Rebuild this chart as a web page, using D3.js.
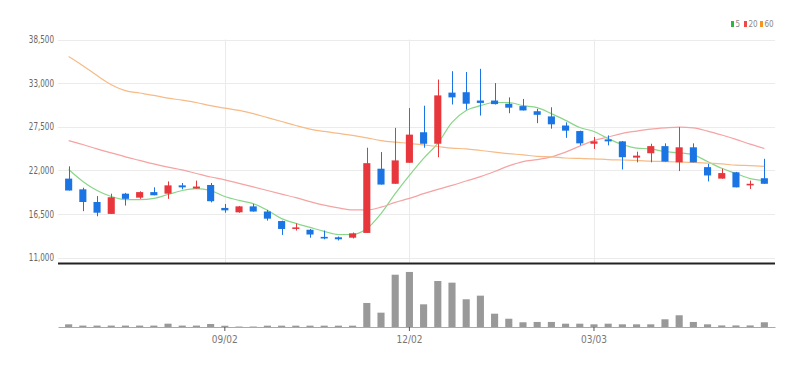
<!DOCTYPE html>
<html>
<head>
<meta charset="utf-8">
<script src="https://cdn.jsdelivr.net/npm/d3@7"></script>
<style>
  body { margin: 0; background: #fff; }
  text { font-family: 'Liberation Sans Narrow', 'DejaVu Sans Condensed', 'Roboto Condensed', 'Noto Sans', sans-serif; font-stretch: condensed; }
</style>
</head>
<body>
<div id="chart"></div>
<script>
var dates = ["06/17","06/24","07/01","07/08","07/15","07/22","07/29","08/05","08/12","08/19",
  "08/26","09/02","09/09","09/16","09/23","09/30","10/07","10/14","10/21","10/28",
  "11/04","11/11","11/18","11/25","12/02","12/09","12/16","12/23","12/30","01/06",
  "01/13","01/20","01/27","02/03","02/10","02/17","02/24","03/03","03/10","03/17",
  "03/24","03/31","04/07","04/14","04/21","04/28","05/05","05/12","05/19","05/26"];

var open  = [20950,19600,18000,16500,19050,18550,19250,19050,20100,19700,
  20150,17250,16700,17450,16800,15600,14600,14500,13600,13550,
  13500,14100,22200,20300,22950,26800,25350,31800,31850,30800,
  30800,30400,30100,29450,28800,27650,26950,25350,25900,25650,
  23600,24150,25050,23000,24900,22400,20950,21750,20100,21000];
var high  = [22500,19800,18750,19050,19150,19350,19850,20600,20400,20700,
  20400,17750,17500,17750,17000,15650,15300,14600,14400,13650,
  14150,24850,24300,27350,29850,30150,33450,34500,34400,34800,
  33000,31200,31000,29750,29950,28050,27000,26200,26400,25700,
  24350,25350,25400,27450,25400,22800,22200,21800,20700,23450];
var low   = [19450,16850,16200,16500,17550,18400,18850,18400,19600,19700,
  17950,16650,16650,16800,15650,13850,14400,13500,13300,13150,
  13400,14100,20200,20300,22950,24850,23650,30300,29650,28900,
  30300,29200,29550,27950,27250,26100,25150,24700,25150,22100,
  23000,23000,23100,21900,23000,20600,20950,19850,19650,20300];
var close = [19450,18000,16650,18600,18400,19250,18850,20100,19850,19950,
  18100,16950,17450,16800,15900,14600,14800,13900,13400,13300,
  14050,22900,20200,23250,26500,25350,31450,31200,30400,30500,
  30350,29900,29550,29000,27800,27000,25400,25650,25650,23650,
  23850,25050,23100,24900,23000,21350,21650,19850,20300,20300];

var ma5  = [22100,20600,19450,18700,18300,18300,18450,18950,19450,19700,
  19450,18700,18200,17800,16950,15900,15300,14800,14300,13900,
  13900,14650,16550,19050,21350,23500,25400,28050,29550,30150,
  30550,30550,30150,29900,29150,28300,27400,26900,26000,25250,
  24800,24700,24350,24200,23950,23100,22250,21600,20950,20700];
var ma20 = [25750,25250,24700,24200,23700,23250,22800,22400,22050,21600,
  21150,20800,20350,19900,19450,19000,18550,18050,17600,17250,
  17000,17000,17350,17950,18450,19050,19600,20100,20650,21200,
  21850,22550,23100,23350,23700,24300,25050,25750,26200,26650,
  26950,27200,27350,27450,27350,26950,26450,25900,25300,24750];
var ma60 = [36350,35200,33950,32800,32050,31750,31450,31100,30850,30550,
  30150,29850,29550,29150,28650,28150,27650,27200,26900,26650,
  26400,26100,25750,25550,25400,25200,25000,24800,24700,24500,
  24300,24100,23950,23750,23700,23550,23500,23450,23350,23300,
  23250,23150,23100,23050,23000,22900,22800,22650,22600,22500];

var volume = [340,180,180,180,180,180,180,420,180,180,
  380,160,60,60,170,170,170,170,170,170,
  170,3050,1820,6640,6990,2880,5840,5630,3520,3980,
  1690,1050,600,640,640,420,420,340,420,340,
  340,340,980,1490,640,340,200,200,200,600];

var priceTicks = [11000, 16500, 22000, 27500, 33000, 38500];
var dateTicks = ["09/02", "12/02", "03/03"];

var maNames = ["5", "20", "60"];
var maSeries = [ma5, ma20, ma60];
var maColors = ["#8ad688", "#f5a3a3", "#f6bb86"];
var legendColors = ["#2db83d", "#f04848", "#f7941d"];
var upColor = "#e8373c", downColor = "#1b74e4";

var width = 810, height = 367;
var left = 58, right = 775;
var priceTop = 39.5, priceBottom = 257.5, panelBottom = 263.5;
var volTop = 264, volBottom = 327;

var svg = d3.select("#chart").append("svg")
    .attr("width", width)
    .attr("height", height);

var x = d3.scaleBand()
    .domain(dates)
    .range([left, right])
    .padding(0.5);

var y = d3.scaleLinear()
    .domain([11000, 38500])
    .range([priceBottom, priceTop]);

var yVol = d3.scaleLinear()
    .domain([0, 8000])
    .range([volBottom, volTop]);

function cx(i) { return x(dates[i]) + x.bandwidth() / 2; }

// grid
svg.append("g")
    .selectAll("line")
    .data(priceTicks)
  .enter().append("line")
    .attr("x1", left).attr("x2", right)
    .attr("y1", function(d) { return Math.round(y(d)) + 0.5; })
    .attr("y2", function(d) { return Math.round(y(d)) + 0.5; })
    .attr("stroke", "#ebebeb");

svg.append("g")
    .selectAll("line")
    .data(dateTicks)
  .enter().append("line")
    .attr("x1", function(d) { return Math.round(x(d) + x.bandwidth() / 2) + 0.5; })
    .attr("x2", function(d) { return Math.round(x(d) + x.bandwidth() / 2) + 0.5; })
    .attr("y1", priceTop)
    .attr("y2", panelBottom)
    .attr("stroke", "#ebebeb");

// y axis labels
var yAxis = svg.append("g")
    .attr("transform", "translate(" + (left - 2) + ",0)")
    .call(d3.axisLeft(y).tickValues(priceTicks).tickSize(0).tickFormat(d3.format(",")));
yAxis.select(".domain").remove();
yAxis.selectAll("text")
    .attr("fill", "#666")
    .style("font-size", "10px")
    .attr("transform", "scale(0.8,1)")
    .attr("x", -2 / 0.8);

// moving averages
var line = d3.line()
    .x(function(d, i) { return cx(i); })
    .y(function(d) { return y(d); })
    .curve(d3.curveMonotoneX);

svg.append("g")
    .selectAll("path")
    .data(maSeries)
  .enter().append("path")
    .attr("d", line)
    .attr("fill", "none")
    .attr("stroke", function(d, i) { return maColors[i]; })
    .attr("stroke-width", 1.2);

// candles
var candles = svg.append("g")
    .selectAll("g")
    .data(dates)
  .enter().append("g")
    .attr("fill", function(d, i) { return close[i] >= open[i] ? upColor : downColor; })
    .attr("stroke", function(d, i) { return close[i] >= open[i] ? upColor : downColor; });

candles.append("line")
    .attr("x1", function(d, i) { return Math.round(cx(i)) + 0.5; })
    .attr("x2", function(d, i) { return Math.round(cx(i)) + 0.5; })
    .attr("y1", function(d, i) { return y(high[i]); })
    .attr("y2", function(d, i) { return y(low[i]); })
    .attr("stroke-width", 1);

candles.append("rect")
    .attr("x", function(d) { return x(d); })
    .attr("width", x.bandwidth())
    .attr("y", function(d, i) { return y(Math.max(open[i], close[i])); })
    .attr("height", function(d, i) { return Math.max(1.5, Math.abs(y(open[i]) - y(close[i]))); })
    .attr("stroke", "none");

// panel separator
svg.append("line")
    .attr("x1", left).attr("x2", right)
    .attr("y1", panelBottom).attr("y2", panelBottom)
    .attr("stroke", "#222")
    .attr("stroke-width", 2);

// volume
svg.append("g")
    .selectAll("rect")
    .data(volume)
  .enter().append("rect")
    .attr("x", function(d, i) { return x(dates[i]); })
    .attr("width", x.bandwidth())
    .attr("y", function(d) { return yVol(d); })
    .attr("height", function(d) { return volBottom - yVol(d); })
    .attr("fill", "#999");

var xAxis = svg.append("g")
    .attr("transform", "translate(0," + volBottom + ")")
    .call(d3.axisBottom(x).tickValues(dateTicks).tickSize(4).tickSizeOuter(0));
xAxis.select(".domain").attr("stroke", "#aaa");
xAxis.selectAll(".tick line").attr("stroke", "#555");
xAxis.selectAll("text")
    .attr("fill", "#777")
    .attr("y", 9)
    .style("font-size", "10px");

// legend
var legend = svg.append("g")
    .attr("transform", "translate(731,21)")
    .selectAll("g")
    .data(maNames)
  .enter().append("g")
    .attr("transform", function(d, i) { return "translate(" + [0, 13, 29][i] + ",0)"; });

legend.append("rect")
    .attr("width", 3)
    .attr("height", 6)
    .attr("fill", function(d, i) { return legendColors[i]; });

legend.append("text")
    .attr("x", 4.5)
    .attr("y", 6)
    .attr("fill", "#888")
    .style("font-size", "8px")
    .text(function(d) { return d; });
</script>
</body>
</html>
